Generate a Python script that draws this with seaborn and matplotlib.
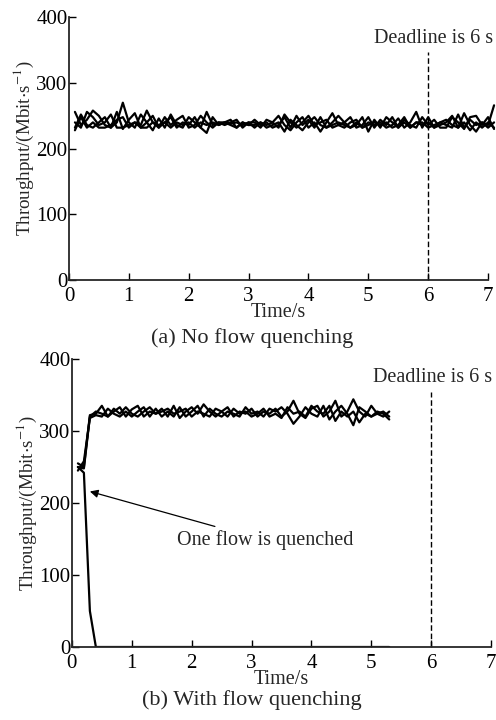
import numpy as np
import pandas as pd
import matplotlib
matplotlib.use("Agg")
import matplotlib.pyplot as plt
import seaborn as sns

# ---------------- data ----------------
time_a = [round(0.1 * i, 1) for i in range(1, 72)]  # 0.1 .. 7.1 s
flow_a1 = [256, 236, 244, 258, 250, 236, 232, 240, 270, 240,
           232, 252, 240, 228, 246, 232, 252, 236, 232, 248,
           240, 232, 256, 236, 240, 240, 238, 240, 236, 240,
           232, 240, 236, 240, 250, 236, 228, 240, 248, 232,
           240, 226, 240, 254, 236, 232, 240, 244, 232, 240,
           236, 240, 232, 236, 246, 232, 240, 256, 232, 248,
           232, 236, 240, 250, 232, 254, 236, 226, 240, 236,
           266]
flow_a2 = [232, 252, 236, 232, 240, 248, 232, 256, 230, 244,
           254, 232, 240, 250, 232, 240, 248, 232, 240, 236,
           248, 232, 224, 248, 236, 240, 244, 232, 240, 236,
           244, 236, 240, 232, 236, 248, 232, 250, 236, 244,
           232, 248, 232, 240, 250, 240, 232, 236, 248, 226,
           244, 232, 248, 240, 232, 244, 236, 232, 248, 236,
           244, 232, 232, 248, 240, 230, 248, 250, 236, 248,
           230]
flow_a3 = [240, 232, 256, 248, 236, 240, 252, 232, 232, 236,
           240, 236, 258, 240, 232, 248, 236, 244, 250, 232,
           236, 250, 240, 232, 240, 236, 240, 244, 232, 240,
           240, 232, 244, 240, 232, 252, 240, 232, 240, 250,
           236, 240, 244, 232, 236, 240, 248, 232, 236, 248,
           232, 244, 236, 248, 232, 240, 232, 240, 240, 232,
           236, 240, 236, 232, 252, 232, 244, 236, 240, 232,
           240]
flow_a4 = [228, 248, 232, 240, 232, 232, 236, 244, 248, 232,
           240, 232, 232, 240, 236, 240, 232, 240, 236, 240,
           232, 240, 236, 240, 236, 240, 236, 232, 240, 236,
           236, 240, 232, 236, 240, 226, 244, 236, 228, 240,
           248, 236, 232, 236, 240, 236, 232, 240, 232, 236,
           240, 236, 240, 232, 236, 248, 232, 240, 236, 240,
           232, 240, 244, 236, 232, 240, 228, 240, 232, 240,
           232]

time_b = [round(0.1 * i, 1) for i in range(1, 54)]  # 0.1 .. 5.3 s
flow_b1 = [255, 250, 322, 324, 335, 320, 327, 333, 320, 330,
           335, 320, 327, 324, 331, 320, 335, 318, 327, 333,
           324, 337, 327, 320, 327, 333, 320, 327, 324, 331,
           320, 327, 324, 331, 320, 327, 342, 324, 318, 331,
           335, 320, 327, 342, 320, 327, 344, 327, 320, 335,
           324, 320, 327]
flow_b2 = [245, 258, 318, 322, 320, 331, 324, 320, 327, 320,
           327, 333, 320, 331, 320, 327, 320, 333, 320, 327,
           335, 320, 331, 324, 320, 327, 324, 320, 333, 324,
           327, 320, 331, 327, 333, 324, 310, 320, 333, 324,
           320, 335, 316, 327, 335, 324, 308, 333, 327, 320,
           327, 324, 316]
flow_b3 = [250, 248, 320, 327, 324, 320, 331, 324, 333, 324,
           320, 327, 333, 324, 327, 331, 324, 327, 331, 320,
           327, 324, 320, 331, 327, 320, 331, 324, 327, 320,
           324, 331, 320, 324, 318, 333, 324, 327, 320, 335,
           327, 324, 335, 314, 327, 320, 327, 312, 324, 320,
           324, 327, 320]
flow_b_quenched = [250, 242, 50, 0] + [0] * 49

deadline = 6

# ---------------- style ----------------
sns.set_style("ticks")
plt.rcParams["font.family"] = ["Liberation Serif", "DejaVu Serif"]
plt.rcParams["mathtext.fontset"] = "stix"
plt.rcParams["axes.linewidth"] = 1.3

df_a = pd.concat([
    pd.DataFrame({"t": time_a, "v": f, "flow": name})
    for f, name in zip([flow_a1, flow_a2, flow_a3, flow_a4], ["1", "2", "3", "4"])
])
df_b = pd.concat([
    pd.DataFrame({"t": time_b, "v": f, "flow": name})
    for f, name in zip([flow_b1, flow_b2, flow_b3, flow_b_quenched], ["1", "2", "3", "4"])
])

fig = plt.figure(figsize=(4.96, 7.2), dpi=100)
ax1 = fig.add_axes([0.139, 0.611, 0.845, 0.365])
ax2 = fig.add_axes([0.145, 0.1014, 0.845, 0.40])

pal = {k: "black" for k in ["1", "2", "3", "4"]}
sns.lineplot(data=df_a, x="t", y="v", hue="flow", palette=pal, estimator=None,
             legend=False, linewidth=1.6, ax=ax1, clip_on=False)
sns.lineplot(data=df_b, x="t", y="v", hue="flow", palette=pal, estimator=None,
             legend=False, linewidth=1.6, ax=ax2)

for ax, ytop in [(ax1, 347), (ax2, 354)]:
    ax.set_xlim(0, 7)
    ax.set_ylim(0, 400)
    ax.set_xticks(range(0, 8))
    ax.set_yticks([0, 100, 200, 300, 400])
    ax.tick_params(direction="in", length=5, width=1.0, labelsize=15,
                   colors="black")
    ax.tick_params(axis="y", pad=1)
    ax.tick_params(axis="x", pad=5)
    sns.despine(ax=ax)
    ax.plot([deadline, deadline], [0, ytop], ls=(0, (4, 2)), color="black", lw=1.0)
    ax.set_xlabel("Time/s", fontsize=14.5, labelpad=-2)
    ax.set_ylabel(r"Throughput/(Mbit$\cdot$s$^{-1}$)", fontsize=13.7, labelpad=0)

ax1.text(5.1, 368, "Deadline is 6 s", fontsize=14.5, va="center", ha="left")
ax2.text(5.03, 374, "Deadline is 6 s", fontsize=14.5, va="center", ha="left")

ax2.annotate("One flow is quenched", xy=(0.3, 216), xytext=(1.75, 148),
             fontsize=14.5, va="center", ha="left",
             arrowprops=dict(arrowstyle="-|>", color="black", lw=0.9,
                             shrinkA=2, shrinkB=0, mutation_scale=12))

fig.text(252 / 496, 1 - 338 / 720, "(a) No flow quenching", fontsize=16,
         ha="center", va="center")
fig.text(252 / 496, 1 - 700 / 720, "(b) With flow quenching", fontsize=16,
         ha="center", va="center")

fig.savefig("out.png", dpi=100, facecolor="white")
